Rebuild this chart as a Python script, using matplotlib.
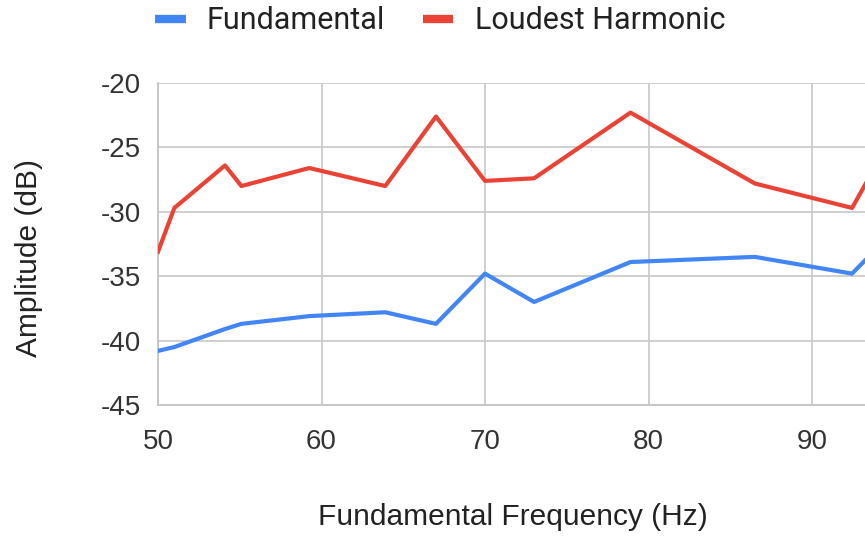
import matplotlib
matplotlib.use("Agg")
import matplotlib.pyplot as plt
from matplotlib.lines import Line2D

plt.rcParams["axes.unicode_minus"] = False

# Fundamental frequency (Hz) of each recorded note
freq_hz = [50.0, 51.0, 54.1, 55.1, 59.25, 63.9, 67.0, 70.0, 73.0, 78.9, 86.5, 92.45, 94.0]

# Amplitudes in dB
fundamental_db = [-40.8, -40.5, -39.1, -38.7, -38.1, -37.8, -38.7, -34.8, -37.0, -33.9, -33.5, -34.8, -32.8]
harmonic_db = [-33.1, -29.7, -26.4, -28.0, -26.6, -28.0, -22.6, -27.6, -27.4, -22.3, -27.8, -29.7, -26.2]

series_names = ["Fundamental", "Loudest Harmonic"]
series_colors = ["#4285F4", "#EA4335"]

x_ticks = [50, 60, 70, 80, 90]
y_ticks = [-45, -40, -35, -30, -25, -20]

W, H = 865, 536
fig = plt.figure(figsize=(W / 100, H / 100), dpi=100)
ax = fig.add_axes([158 / W, 1 - 405 / H, (W - 158) / W, (405 - 83) / H])

ax.plot(freq_hz, fundamental_db, color=series_colors[0], lw=3.0, zorder=3)
ax.plot(freq_hz, harmonic_db, color=series_colors[1], lw=3.0, zorder=3)

ax.set_xlim(50, 50 + (W - 158) / 16.35)
ax.set_ylim(-45, -20)
ax.set_xticks(x_ticks)
ax.set_yticks(y_ticks)
ax.grid(True, color="#cccccc", lw=1.3)
ax.set_axisbelow(True)
ax.tick_params(length=0, labelsize=20, colors="#333333")
ax.tick_params(axis="x", pad=17)
ax.tick_params(axis="y", pad=12)
for lab in ax.get_xticklabels() + ax.get_yticklabels():
    lab.set_family("Liberation Sans")

for side in ["top", "right"]:
    ax.spines[side].set_visible(False)
for side in ["left", "bottom"]:
    ax.spines[side].set_color("#c4c4c4")
    ax.spines[side].set_linewidth(1.3)

fig.text(513 / W, 1 - 517 / H, "Fundamental Frequency (Hz)", ha="center", va="center",
         fontsize=21.5, family="Liberation Sans", color="#222222")
fig.text(29 / W, 1 - 258 / H, "Amplitude (dB)", ha="center", va="center", rotation=90,
         fontsize=21.5, family="Liberation Sans", color="#222222")

handles = [Line2D([], [], color=c, lw=6, solid_capstyle="butt") for c in series_colors]
fig.legend(handles, series_names, loc="center", bbox_to_anchor=(440 / W, 1 - 21 / H),
           ncol=2, frameon=False, handlelength=1.0, handletextpad=0.69, columnspacing=1.24,
           prop={"family": "Roboto", "size": 22}, labelcolor="#222222")

fig.savefig("out.png", dpi=100, facecolor="white")
